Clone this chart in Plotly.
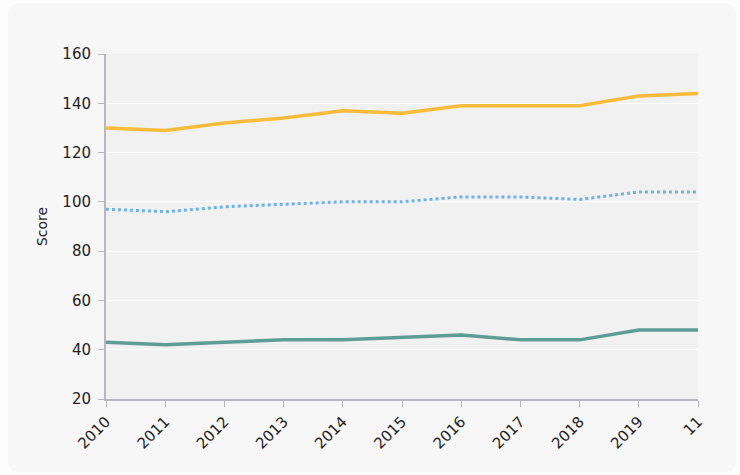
import plotly.graph_objects as go

# Yearly scores for three groups
years = ["2010", "2011", "2012", "2013", "2014", "2015", "2016", "2017", "2018", "2019", "11"]
high_scores = [130, 129, 132, 134, 137, 136, 139, 139, 139, 143, 144]
mid_scores = [97, 96, 98, 99, 100, 100, 102, 102, 101, 104, 104]
low_scores = [43, 42, 43, 44, 44, 45, 46, 44, 44, 48, 48]

FONT = "DejaVu Sans"
AXIS_GRAY = "#b7b7bd"

fig = go.Figure()
fig.add_trace(go.Scatter(x=years, y=high_scores, mode="lines",
                         line=dict(color="#f9bb3b", width=3.5), showlegend=False))
fig.add_trace(go.Scatter(x=years, y=mid_scores, mode="lines",
                         line=dict(color="#6fb2ea", width=3, dash="dot"), showlegend=False))
fig.add_trace(go.Scatter(x=years, y=low_scores, mode="lines",
                         line=dict(color="#5e9c96", width=3.5), showlegend=False))

W, H = 740, 475
L, R, T, B = 106, 42, 54, 76
PW, PH = W - L - R, H - T - B

# card edges in figure pixels
cx0, cy0, cx1, cy1, r = 8, 3, 736, 472, 12


def px(x):
    # figure pixel -> paper fraction (relative to the plot area)
    return (x - L) / PW


def py(y):
    return (H - B - y) / PH


outer = (f"M {px(-5)},{py(-5)} L {px(W + 5)},{py(-5)} "
         f"L {px(W + 5)},{py(H + 5)} L {px(-5)},{py(H + 5)} Z")
inner = (f"M {px(cx0 + r)},{py(cy0)} L {px(cx1 - r)},{py(cy0)} "
         f"Q {px(cx1)},{py(cy0)} {px(cx1)},{py(cy0 + r)} "
         f"L {px(cx1)},{py(cy1 - r)} Q {px(cx1)},{py(cy1)} {px(cx1 - r)},{py(cy1)} "
         f"L {px(cx0 + r)},{py(cy1)} Q {px(cx0)},{py(cy1)} {px(cx0)},{py(cy1 - r)} "
         f"L {px(cx0)},{py(cy0 + r)} Q {px(cx0)},{py(cy0)} {px(cx0 + r)},{py(cy0)} Z")

fig.update_layout(
    width=W, height=H,
    margin=dict(l=L, r=R, t=T, b=B),
    paper_bgcolor="#f7f7f7",
    plot_bgcolor="#f1f1f1",
    font=dict(family=FONT, size=13, color="#222222"),
    shapes=[
        dict(type="path", path=outer + " " + inner, xref="paper", yref="paper",
             fillcolor="#fdfdfd", fillrule="evenodd", line=dict(width=0),
             layer="below"),
    ],
    xaxis=dict(type="category", range=[0, 10], showgrid=False,
               showline=True, linecolor=AXIS_GRAY, linewidth=2,
               ticks="outside", ticklen=6, tickcolor=AXIS_GRAY,
               tickangle=-45, tickfont=dict(size=15)),
    yaxis=dict(range=[20, 160], dtick=20, showgrid=True, gridcolor="#ffffff",
               gridwidth=1, showline=True, linecolor=AXIS_GRAY, linewidth=2,
               ticks="outside", ticklen=6, tickcolor=AXIS_GRAY,
               tickfont=dict(size=15), zeroline=False, ticklabelstandoff=4,
               title=dict(text="Score", font=dict(size=14), standoff=11)),
)

fig.write_html("out.html")
